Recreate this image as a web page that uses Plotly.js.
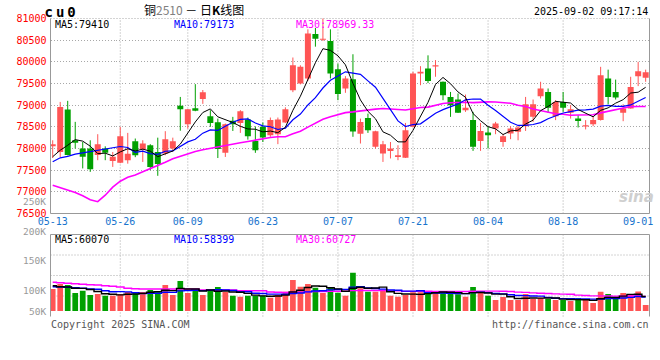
<!DOCTYPE html>
<html><head><meta charset="utf-8">
<script src="https://cdn.plot.ly/plotly-3.0.1.min.js"></script>
<style>html,body{margin:0;padding:0;background:#fff}#chart{width:660px;height:360px}</style>
</head><body><div id="chart"></div>
<script>
// ---- data ----
const dateLabels = ['05-13','05-26','06-09','06-23','07-07','07-21','08-04','08-18','09-01'];
const dateLabelIndex = [0,9,18,28,38,48,58,68,78];
const gridDateIndex = [9,18,28,38,48,58,68];

const openP = [78050,77920,78900,78190,78000,78000,77850,78000,77710,77670,
  77730,78170,77980,78075,77920,77885,78000,78985,78560,78930,
  79140,78745,78605,77900,78640,78590,78670,78175,78500,78305,
  78330,78600,79345,79500,79615,80645,80510,80480,79830,79385,
  79600,78340,78705,78040,77885,77940,77805,77785,78500,79730,
  79845,79895,79540,79190,79130,78885,78655,78175,78370,78460,
  78150,78345,78385,78515,78730,79205,79305,78745,79075,78825,
  78690,78510,78560,78655,79615,79305,78825,78925,79670,79630];
const highP = [78190,79075,79100,78615,78150,78190,78330,78050,77920,78500,
  78360,78230,78190,78100,78250,78400,78250,79190,78910,79485,
  79350,78885,78690,78575,78730,78885,78715,78500,78600,78715,
  78715,78950,80100,79920,80750,80780,81250,80750,79960,79670,
  80175,78690,78805,78410,78175,78150,78075,78590,79770,79900,
  80150,80040,79545,79305,79270,79245,78845,78590,78515,78615,
  78330,78515,78540,79190,79130,79540,79385,79115,79305,79000,
  78770,78655,78745,79885,79820,79590,79020,79655,80000,79820];
const lowP = [77780,77800,77840,78000,77540,77460,77730,77730,77575,77660,
  77650,77800,77690,77500,77370,77845,77920,78410,78460,78860,
  79030,78500,77780,77805,78405,78360,78205,77900,78150,78270,
  78100,78590,79300,79480,79560,80350,80480,79615,79115,79285,
  78270,78115,78360,78000,77690,77770,77730,77780,78485,79460,
  79510,79655,79115,78730,78820,78845,77945,77945,78000,78330,
  78040,78215,78190,78405,78615,79155,78825,78655,78845,78690,
  78485,78440,78515,78645,79020,79130,78630,78920,79440,79540];
const closeP = [78100,78960,77850,78130,77810,77520,78100,77900,77810,78280,
  77880,77845,78115,77575,77640,78215,78170,78905,78905,78870,
  79300,78590,77990,78560,78560,78860,78285,77960,78255,78655,
  78670,78905,79920,79885,80655,80530,80525,79730,79255,79615,
  78390,78610,78420,78400,78100,78000,77845,78420,79730,79770,
  79560,79910,79230,79000,78825,78940,78040,78405,78305,78575,
  78285,78460,78485,79020,79020,79385,78940,79075,78940,78905,
  78635,78520,78655,79690,79190,79175,78925,79420,79785,79760];
const volume = [91300,112050,107900,74700,84250,66400,70550,63500,63500,70550,
  78850,74700,78850,87150,83000,107900,66400,124500,74700,83000,
  66400,87150,99600,78850,63500,59350,63500,63500,63500,55200,
  66400,80100,128650,100850,112050,96700,74700,99600,75950,63500,
  158950,94200,80100,80100,83000,63500,59350,66400,77600,77600,
  80000,77600,80000,73450,69300,59350,100000,82000,63500,45650,
  58100,45650,45650,70550,49800,55200,49800,45650,45650,41500,
  54000,45650,33000,80000,70550,49800,74700,70000,81000,24900];

const ma5Head = [77810,77960,78075,78205];
const ma10Head = [77695,77785,77820,77870,77900,77930,77960,77995,78020];
const ma30Head = [77153,77100,77044,76984,76910,76818,76772,76922,77107,77245,
  77337,77390,77464,77534,77603,77684,77765,77822,77880,77931,
  77972,78007,78034,78064,78099,78134,78161,78196,78231];
const vma5Head = [105000,100850,99600,94200];
const vma10Head = [100850,99600,98350,96700,94200,91300,90050,84250,80100];
const vma30Head = [119100,117450,114950,113300,110800,109150,107900,105000,102500,99600,
  94200,92550,91300,91300,91300,91300,91300,91300,91300,91300,
  87150,87150,87150,87150,87150,84250,84250,84250,84250];

const priceMaLabels = ['MA5:79410','MA10:79173','MA30:78969.33'];
const volMaLabels = ['MA5:60070','MA10:58399','MA30:60727'];
const volTickLabels = ['250K','200K','150K','100K','50K'];

// ---- helpers ----
const W = 660, H = 360;
const px = x => x / W;
const py = y => 1 - y / H;
const RED = '#ff5555', GREEN = '#00a000';
const MONO = 'DejaVu Sans Mono';
const idx = closeP.map((_, i) => i);

function movingAvg(arr, n, head) {
  return arr.map((v, i) => {
    if (i < n - 1) return head[i];
    let s = 0;
    for (let k = i - n + 1; k <= i; k++) s += arr[k];
    return s / n;
  });
}
const up = closeP.map((c, i) => c >= openP[i]);
const colors = up.map(u => u ? RED : GREEN);

function wicks(flag) {
  const xs = [], ys = [];
  idx.forEach(i => { if (up[i] === flag) { xs.push(i, i, null); ys.push(highP[i], lowP[i], null); } });
  return {type:'scatter', mode:'lines', x:xs, y:ys, xaxis:'x', yaxis:'y',
    line:{color: flag ? RED : GREEN, width:1}, hoverinfo:'skip'};
}
const minBody = 24;
const bodies = {type:'bar', x:idx, base: idx.map(i => Math.min(openP[i], closeP[i])),
  y: idx.map(i => Math.max(Math.abs(closeP[i] - openP[i]), minBody)),
  width:0.8, marker:{color:colors, line:{width:0}}, xaxis:'x', yaxis:'y', hoverinfo:'skip'};

function line(y, color, w, ya, shape) {
  return {type:'scatter', mode:'lines', x:idx, y:y, xaxis:'x', yaxis:ya,
    line:{color:color, width:w, shape: shape || 'linear'}, hoverinfo:'skip'};
}
const volBars = {type:'bar', x:idx, y:volume, width:0.76,
  marker:{color:colors, line:{width:0}}, xaxis:'x', yaxis:'y2', hoverinfo:'skip'};

const traces = [
  wicks(true), wicks(false), bodies,
  line(movingAvg(closeP, 30, ma30Head), '#ff00ff', 1.6, 'y'),
  line(movingAvg(closeP, 10, ma10Head), '#0000ff', 1.2, 'y'),
  line(movingAvg(closeP, 5, ma5Head), '#000000', 1, 'y'),
  volBars,
  line(movingAvg(volume, 30, vma30Head), '#ff00ff', 1.4, 'y2', 'hvh'),
  line(movingAvg(volume, 10, vma10Head), '#0000ff', 1.4, 'y2', 'hvh'),
  line(movingAvg(volume, 5, vma5Head), '#000000', 1.4, 'y2', 'hvh')
];

// ---- frame geometry (pixels) ----
const L = 50.5, R = 649.5, mTop = 18.5, mBot = 213.5, vTop = 234.5, vBot = 316.5;
const DOT = '1px,2px', GRID = '#a8a8a8', FRAME = '#999999';
const shapes = [];
gridDateIndex.forEach(i => {
  shapes.push({type:'line', xref:'x', yref:'paper', x0:i, x1:i, y0:py(mBot), y1:py(mTop), layer:'below', line:{color:GRID, width:1, dash:DOT}});
  shapes.push({type:'line', xref:'x', yref:'paper', x0:i, x1:i, y0:py(vBot), y1:py(vTop), layer:'below', line:{color:GRID, width:1, dash:DOT}});
});
[1,2,3].forEach(k => {
  const y = vTop + (vBot - vTop) * k / 4;
  shapes.push({type:'line', xref:'paper', yref:'paper', x0:px(L), x1:px(R), y0:py(y), y1:py(y), layer:'below', line:{color:GRID, width:1, dash:DOT}});
});
shapes.push({type:'line', xref:'paper', yref:'paper', x0:px(L), x1:px(R), y0:py(mTop), y1:py(mTop), layer:'below', line:{color:GRID, width:1, dash:DOT}});
function seg(x0, y0, x1, y1) {
  shapes.push({type:'line', xref:'paper', yref:'paper', x0:px(x0), x1:px(x1), y0:py(y0), y1:py(y1), layer:'above', line:{color:FRAME, width:1}});
}
seg(L, mTop, L, mBot); seg(R, mTop, R, mBot); seg(L, mBot, R, mBot);
seg(L, vTop, R, vTop); seg(L, vTop, L, vBot); seg(R, vTop, R, vBot);

// ---- texts ----
function ann(text, x, y, anchor, color, size, family) {
  return {text:text, xref:'paper', yref:'paper', x:px(x), y:py(y), xanchor:anchor, yanchor:'middle',
    showarrow:false, borderpad:0, font:{family: family || MONO, size: size || 10, color: color || '#000'}};
}
const maColors = ['#000000', '#0000ff', '#ff00ff'];
const maX = [54, 173, 295];
const annotations = [
  ann('<b>cu0</b>', 48, 12, 'left', '#000', 14),
  ann('铜<span style="color:#808080">2510</span> － 日<b>K</b>线图', 194, 9, 'center', '#000', 12, 'Noto Sans CJK SC'),
  ann('2025-09-02 09:17:14', 649, 12, 'right', '#000', 10),
  ann('Copyright 2025 SINA.COM', 50, 324, 'left', '#555', 10),
  ann('http://finance.sina.com.cn', 650, 324, 'right', '#555', 10),
  ann('<b><i>sina</i></b>', 636, 197, 'center', '#cfcfcf', 15, 'DejaVu Sans')
];
priceMaLabels.forEach((t, k) => annotations.push(ann(t, maX[k], 24.5, 'left', maColors[k], 10)));
volMaLabels.forEach((t, k) => annotations.push(ann(t, maX[k], 239, 'left', maColors[k], 10)));
const volTickY = [201, 231, 260, 290.5, 311];
volTickLabels.forEach((t, k) => annotations.push(ann(t, 47, volTickY[k], 'right', '#999', 9.5)));

// index -> pixel: 52.7 + 7.506*i ; volume: 0 at y=311, 4150 lots per px
const xr0 = (L - 52.7) / 7.506, xr1 = (R - 52.7) / 7.506;
const VK = 4150;
const layout = {
  width:W, height:H, margin:{l:0, r:0, t:0, b:0}, paper_bgcolor:'#fff', plot_bgcolor:'rgba(0,0,0,0)',
  showlegend:false, hovermode:false, barmode:'overlay',
  xaxis:{domain:[px(L), px(R)], range:[xr0, xr1], anchor:'y', tickvals:dateLabelIndex, ticktext:dateLabels,
    showgrid:false, zeroline:false, showline:false, ticks:'', fixedrange:true,
    tickfont:{family:MONO, size:10, color:'#1874cd'}},
  yaxis:{domain:[py(mBot), py(mTop)], range:[76500, 81000], tick0:76500, dtick:500, anchor:'x',
    showgrid:true, gridcolor:GRID, griddash:DOT, gridwidth:1, zeroline:false, showline:false, ticks:'',
    ticklabelstandoff:3, tickformat:'d', fixedrange:true, tickfont:{family:MONO, size:10, color:'#ff0000'}},
  yaxis2:{domain:[py(vBot), py(vTop)], range:[-(vBot - 311) * VK, (311 - vTop) * VK], anchor:'x',
    showgrid:false, zeroline:false, showline:false, showticklabels:false, ticks:'', fixedrange:true},
  shapes:shapes, annotations:annotations
};
Plotly.newPlot('chart', traces, layout, {staticPlot:true, displayModeBar:false}).then(() => {
  document.querySelectorAll('.annotation-text').forEach(t => {
    if (t.textContent === 'cu0') t.setAttribute('letter-spacing', '3px');
  });
});
</script></body></html>
